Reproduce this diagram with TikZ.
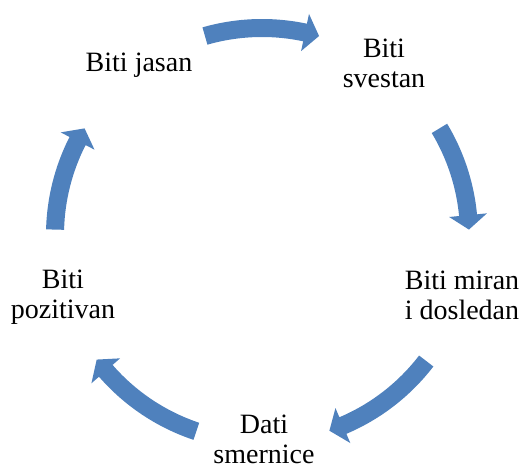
\documentclass[tikz,border=0pt]{standalone}
\usepackage{fontspec}
\setmainfont{Liberation Serif}
\definecolor{arrowblue}{HTML}{4F81BD}
\begin{document}
\begin{tikzpicture}[x=1pt,y=1pt,
  lbl/.style={align=center,inner sep=0pt,anchor=base,font=\fontsize{28}{30}\selectfont},
  cyc/.style={fill=arrowblue,draw=none}]
\useasboundingbox (0,0) rectangle (521,-465);
\begin{scope}[shift={(262,-235)}]
\foreach \ta/\tp in {106/74, 31/1.5, -37.5/-71, -108.5/-143, 178.5/149}{
  \pgfmathsetmacro\hb{\tp+4}
  \fill[cyc] (\ta:216pt) arc[start angle=\ta, end angle=\hb, radius=216pt]
    -- (\hb:226pt) -- (\tp:207pt) -- (\hb:188pt) -- (\hb:198pt)
    arc[start angle=\hb, end angle=\ta, radius=198pt] -- cycle;
}
\end{scope}
\node[lbl] (jasan) at (139,-72) {Biti jasan};
\node[lbl] (svestan) at (384,-88) {Biti\\svestan};
\node[lbl] (miran) at (462,-319) {Biti miran\\i dosledan};
\node[lbl] (smernice) at (264,-463) {Dati\\smernice};
\node[lbl] (pozitivan) at (63,-318) {Biti\\pozitivan};
\end{tikzpicture}
\end{document}
